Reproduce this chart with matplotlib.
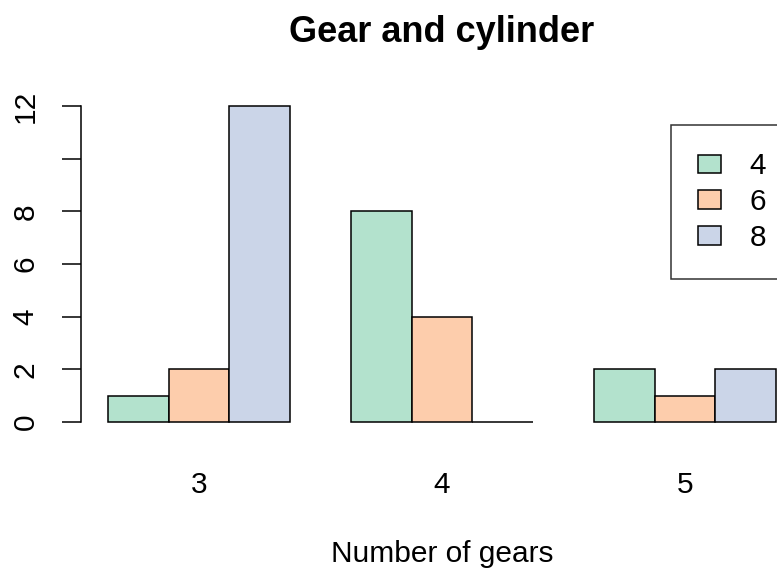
import numpy as np
import matplotlib.pyplot as plt
from matplotlib.patches import Patch

plt.rcParams['font.family'] = ['Liberation Sans', 'DejaVu Sans']

gears = ['3', '4', '5']
cyls = ['4', '6', '8']
# counts[cyl][gear]
counts = {
    '4': [1, 8, 2],
    '6': [2, 4, 1],
    '8': [12, 0, 2],
}
colors = ['#B3E2CD', '#FDCDAC', '#CBD5E8']
yticks = [0, 2, 4, 6, 8, 10, 12]
yticklabels = ['0', '2', '4', '6', '8', '', '12']

W, H = 777, 581
fig = plt.figure(figsize=(W / 100, H / 100), dpi=100)
# plot region in pixels: x 81..803, y 93.4..434.6
ax = fig.add_axes([81 / W, 1 - 434.6 / H, 722 / W, 341.2 / H])

ncyl = len(cyls)
for j, c in enumerate(cyls):
    xs = [1 + g * (ncyl + 1) + j for g in range(len(gears))]
    ax.bar(xs, counts[c], width=1, align='edge', color=colors[j],
           edgecolor='black', linewidth=1.1, label=c)

ax.set_xlim(0.56, 12.44)
ax.set_ylim(-0.48, 12.48)
centers = [1 + g * (ncyl + 1) + ncyl / 2 for g in range(len(gears))]
ax.set_xticks(centers)
ax.set_xticklabels(gears, fontsize=21.5)
ax.tick_params(axis='x', length=0, pad=26)
ax.set_yticks(yticks)
ax.set_yticklabels(yticklabels, fontsize=21.5, rotation=90, va='center')
ax.tick_params(axis='y', length=13.7, width=1.1, pad=16)

for s in ['top', 'right', 'bottom']:
    ax.spines[s].set_visible(False)
ax.spines['left'].set_bounds(0, 12)
ax.spines['left'].set_linewidth(1.1)

ax.set_xlabel('Number of gears', fontsize=21.5, labelpad=30)
ax.set_title('Gear and cylinder', fontsize=26, fontweight='bold', pad=37)

handles = [Patch(facecolor=colors[j], edgecolor='black', linewidth=1.1) for j in range(ncyl)]
leg = fig.legend(handles, cyls, loc='upper left',
                 bbox_to_anchor=(671 / W, 1 - 125 / H), fontsize=21.5,
                 frameon=True, fancybox=False, edgecolor='black',
                 handlelength=0.77, handleheight=0.57, handletextpad=0.95,
                 labelspacing=0.26, borderpad=0.92, borderaxespad=0)
leg.get_frame().set_linewidth(1.1)

fig.savefig('out.png', dpi=100)
